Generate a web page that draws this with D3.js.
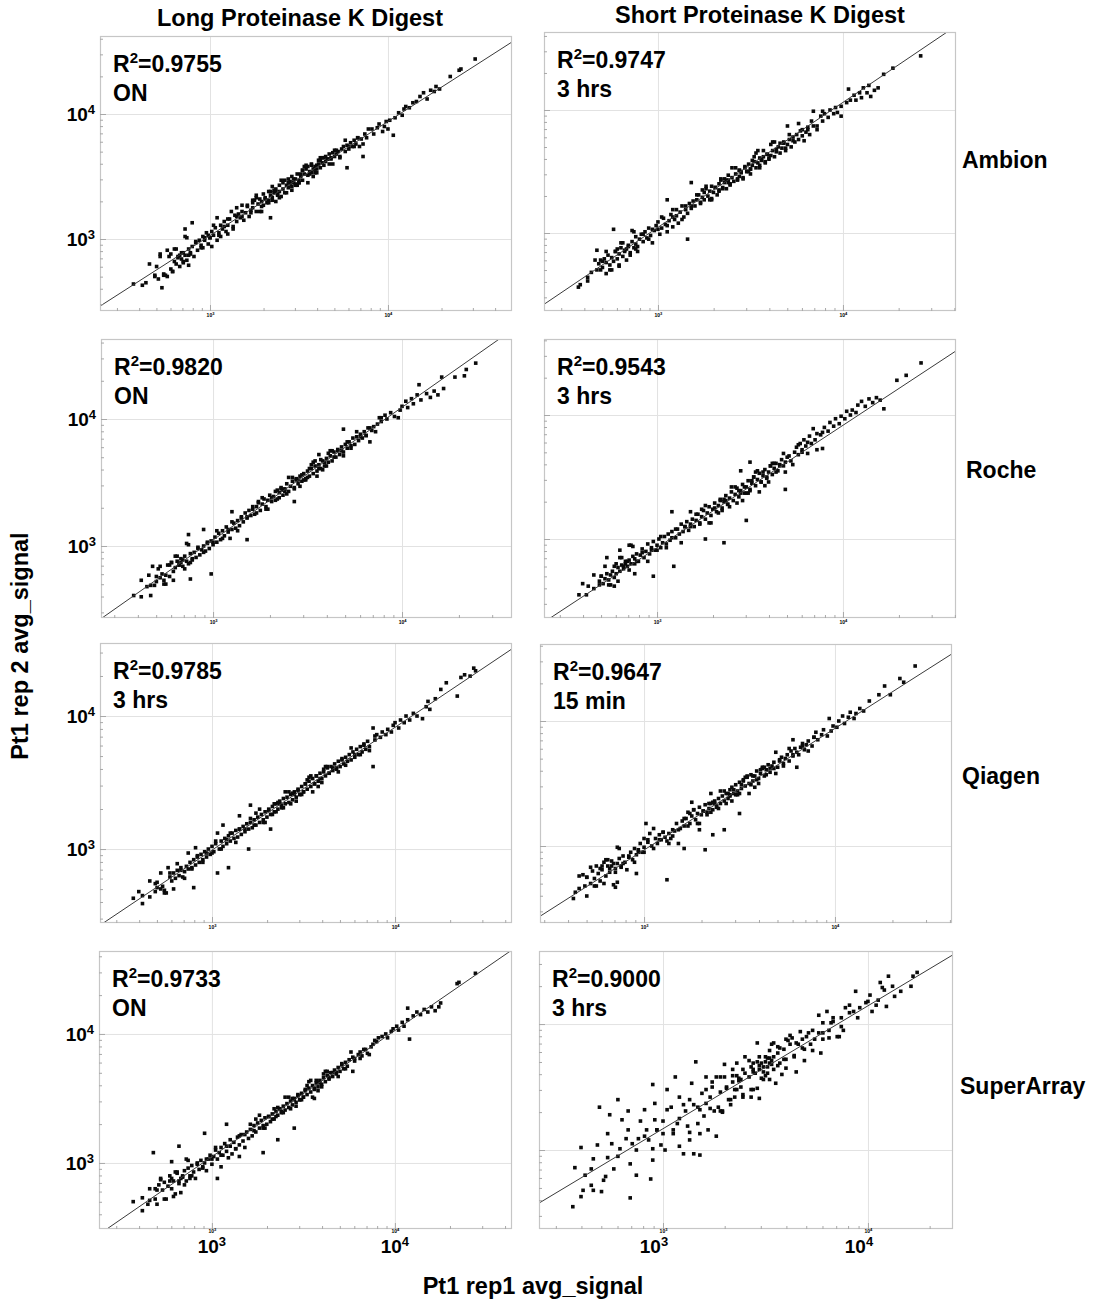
<!DOCTYPE html>
<html><head><meta charset="utf-8">
<script src="https://cdn.jsdelivr.net/npm/d3@7"></script>
<style>
body{margin:0;background:#fff}
svg{display:block}
text{font-family:"Liberation Sans",Arial,Helvetica,sans-serif;font-weight:bold;fill:#000}
</style>
</head><body>
<svg id="chart" width="1105" height="1308"></svg>
<script>
// ---------- data (all signal values in log10 units) ----------
const columnTitles = ["Long Proteinase K Digest", "Short Proteinase K Digest"];
const rowLabels = ["Ambion", "Roche", "Qiagen", "SuperArray"];
const r2Values = ["0.9755", "0.9747", "0.9820", "0.9543", "0.9785", "0.9647", "0.9733", "0.9000"];
const digestTimes = ["ON", "3 hrs", "ON", "3 hrs", "3 hrs", "15 min", "ON", "3 hrs"];
const xAxisTitle = "Pt1 rep1 avg_signal";
const yAxisTitle = "Pt1 rep 2 avg_signal";
const majorTickExponents = [3, 4];
// axis extents per panel (log10 signal)
const xExtentLog = [[2.382,4.697],[2.384,4.611],[2.407,4.582],[2.392,4.608],[2.388,4.639],[2.455,4.613],[2.383,4.640],[2.395,4.415]];
const yExtentLog = [[2.424,4.624],[2.366,4.634],[2.433,4.630],[2.363,4.613],[2.444,4.549],[2.384,4.616],[2.488,4.643],[2.373,4.580]];
// fitted line: log10(rep2) at rep1 = 10^3 and at rep1 = 10^4
const fitLog = [[3.027,3.940],[3.046,4.062],[3.047,4.092],[2.930,3.917],[2.992,3.915],[2.968,3.941],[3.049,4.026],[3.169,4.145]];

const ambionLong = [[2.57,2.64],[2.64,2.65],[2.69,2.70],[2.71,2.68],[2.73,2.61],[2.72,2.88],[2.74,2.72],[2.76,2.70],[2.76,2.91],[2.78,2.76],[2.79,2.74],[2.80,2.82],
[2.81,2.80],[2.82,2.86],[2.83,2.78],[2.84,2.84],[2.85,2.89],[2.85,2.81],[2.86,3.08],[2.86,2.87],[2.87,2.83],[2.88,2.92],[2.88,2.79],[2.89,2.88],[2.90,3.13],[2.90,2.94],[2.91,2.86],
[2.92,2.97],[2.93,2.91],[2.94,2.99],[2.95,2.95],[2.96,3.02],[2.96,2.93],[2.97,2.99],[2.98,3.05],[2.99,2.96],[2.99,3.03],
[3.00,3.01],[3.01,3.06],[3.01,2.94],[3.02,3.03],[3.03,3.09],[3.04,3.17],[3.04,2.99],[3.05,3.05],[3.06,3.11],[3.06,3.02],[3.07,3.08],[3.08,3.14],[3.09,3.06],[3.10,3.11],[3.10,3.04],
[3.11,3.16],[3.12,3.22],[3.13,3.10],[3.14,3.19],[3.15,3.25],[3.15,3.14],[3.16,3.20],[3.17,3.17],[3.18,3.27],[3.18,3.22],[3.19,3.15],[3.20,3.21],
[3.21,3.26],[3.22,3.18],[3.23,3.23],[3.24,3.29],[3.24,3.25],[3.25,3.31],[3.26,3.22],[3.26,3.35],[3.27,3.28],[3.28,3.32],[3.29,3.26],[3.29,3.30],[3.30,3.36],[3.30,3.27],
[3.31,3.33],[3.32,3.29],[3.33,3.38],[3.33,3.31],[3.34,3.17],[3.34,3.35],[3.35,3.42],[3.35,3.33],[3.36,3.37],[3.37,3.30],[3.37,3.40],[3.38,3.36],[3.39,3.43],[3.39,3.38],[3.40,3.34],
[3.41,3.40],[3.41,3.45],[3.42,3.37],[3.43,3.43],[3.44,3.48],[3.44,3.41],[3.45,3.46],[3.46,3.42],[3.46,3.50],[3.47,3.45],[3.48,3.48],[3.48,3.43],[3.49,3.52],[3.50,3.47],[3.50,3.45],
[3.51,3.50],[3.52,3.55],[3.52,3.47],[3.53,3.52],[3.54,3.56],[3.55,3.51],[3.55,3.58],[3.56,3.54],[3.57,3.53],[3.57,3.60],[3.58,3.56],[3.59,3.58],[3.59,3.53],[3.60,3.59],[3.60,3.56],
[3.61,3.60],[3.62,3.63],[3.62,3.57],[3.63,3.61],[3.64,3.65],[3.65,3.62],[3.65,3.66],[3.66,3.64],[3.67,3.60],[3.67,3.68],[3.68,3.65],[3.69,3.69],[3.70,3.66],[3.70,3.71],
[3.71,3.68],[3.72,3.70],[3.73,3.66],[3.74,3.72],[3.75,3.74],[3.76,3.70],[3.77,3.57],[3.77,3.75],[3.78,3.72],[3.79,3.77],[3.80,3.74],
[3.81,3.79],[3.82,3.76],[3.83,3.81],[3.84,3.74],[3.85,3.80],[3.86,3.66],[3.87,3.84],[3.88,3.81],
[3.91,3.88],[3.92,3.84],[3.94,3.89],[3.95,3.92],[3.97,3.86],[3.98,3.90],[3.99,3.94],[4.00,3.88],
[4.01,3.95],[4.03,3.83],[4.04,3.97],[4.06,4.01],[4.08,3.99],[4.09,4.04],[4.10,4.06],
[4.12,4.05],[4.14,4.09],[4.16,4.10],[4.18,4.14],[4.20,4.17],[4.22,4.12],[4.24,4.19],[4.26,4.18],[4.27,4.22],[4.29,4.20],
[4.35,4.30],[4.40,4.35],[4.41,4.36],[4.49,4.44],
[2.92,2.98],[2.95,2.93],[2.97,3.01],[3.00,3.01],[3.02,3.11],[3.05,3.03],[3.08,3.10],[3.10,3.16],[3.13,3.08],[3.15,3.18],[3.18,3.18],[3.21,3.27],[3.23,3.21],[3.26,3.33],[3.28,3.22],[3.31,3.32],[3.33,3.29],[3.36,3.39],[3.38,3.35],[3.40,3.47],[3.43,3.37],[3.45,3.44],[3.47,3.48],[3.50,3.45],[3.52,3.55],[3.55,3.45],[3.57,3.59],[3.59,3.56],[3.62,3.65],[3.64,3.59],[3.66,3.64],[3.69,3.60],[3.71,3.71],[3.73,3.65],[3.76,3.79],[3.78,3.74],[3.81,3.74],[3.83,3.81],[3.86,3.76],[3.89,3.88],[3.24,3.31],[3.29,3.22],[3.34,3.38],[3.39,3.33],[3.44,3.45],[3.48,3.44],[3.53,3.58],[3.58,3.50],[3.63,3.65],[3.68,3.64],[3.35,3.31],[3.42,3.47],[3.46,3.39],[3.51,3.52],[3.56,3.52],[3.61,3.63],[3.37,3.38],[3.49,3.43],[3.54,3.59],[3.60,3.53],
[2.62,2.63],[2.66,2.80],[2.69,2.71],[2.72,2.86],[2.74,2.71],[2.77,2.86],[2.79,2.74],[2.81,2.92],[2.83,2.87],[2.85,2.82],[2.87,3.01],[2.89,2.89],[2.70,2.78],[2.75,2.71],[2.80,2.92],[2.84,2.89],[2.88,2.87],[2.78,2.88],[2.82,2.85],[2.86,3.02]];

const ambionShort = [[2.57,2.56],[2.58,2.58],[2.62,2.64],[2.64,2.68],[2.67,2.70],[2.67,2.86],[2.68,2.75],[2.69,2.78],[2.70,2.72],[2.71,2.79],[2.72,2.67],[2.72,2.76],[2.73,2.82],[2.74,2.74],[2.75,2.80],[2.76,3.03],[2.76,2.77],[2.77,2.85],[2.78,2.79],[2.79,2.74],[2.79,2.83],[2.80,2.88],[2.81,2.81],[2.82,2.86],[2.83,2.78],[2.84,2.90],[2.85,2.84],[2.86,2.93],[2.87,2.88],[2.88,2.97],[2.88,2.91],[2.89,2.85],[2.90,2.95],[2.91,2.99],[2.92,2.93],[2.93,3.01],[2.94,2.96],[2.95,3.04],[2.96,2.98],[2.97,2.92],[2.98,3.02],[2.99,3.06],
[3.00,3.09],[3.01,2.99],[3.02,3.04],[3.03,3.12],[3.04,3.07],[3.05,3.27],[3.05,3.01],[3.06,3.10],[3.07,3.15],[3.08,3.05],[3.08,3.19],[3.09,3.11],[3.10,3.14],[3.11,3.08],[3.12,3.17],[3.13,3.22],[3.14,3.13],[3.15,3.19],[3.16,2.95],[3.16,3.16],[3.17,3.24],[3.18,3.41],[3.18,3.20],[3.19,3.26],[3.20,3.22],
[3.21,3.27],[3.22,3.31],[3.23,3.24],[3.24,3.29],[3.25,3.33],[3.25,3.27],[3.26,3.36],[3.27,3.30],[3.28,3.34],[3.29,3.28],[3.29,3.38],[3.30,3.33],[3.31,3.37],[3.32,3.31],[3.33,3.40],[3.33,3.35],[3.34,3.44],[3.35,3.37],[3.36,3.41],[3.37,3.36],[3.38,3.43],[3.38,3.47],[3.39,3.40],[3.40,3.45],
[3.41,3.42],[3.42,3.48],[3.43,3.44],[3.44,3.51],[3.44,3.46],[3.45,3.49],[3.46,3.44],[3.47,3.53],[3.48,3.50],[3.49,3.56],[3.50,3.52],[3.50,3.48],[3.51,3.55],[3.52,3.58],[3.53,3.53],[3.54,3.57],[3.55,3.61],[3.55,3.55],[3.56,3.59],[3.57,3.62],[3.58,3.57],[3.59,3.64],[3.60,3.60],
[3.61,3.63],[3.62,3.67],[3.63,3.62],[3.64,3.66],[3.65,3.70],[3.66,3.65],[3.67,3.69],[3.68,3.74],[3.69,3.67],[3.70,3.87],[3.70,3.72],[3.71,3.76],[3.72,3.70],[3.73,3.78],[3.74,3.74],[3.75,3.80],[3.76,3.76],[3.77,3.83],[3.78,3.79],[3.79,3.75],[3.80,3.82],
[3.81,3.86],[3.82,3.80],[3.84,3.99],[3.84,3.87],[3.86,3.84],[3.88,3.95],[3.89,3.91],[3.90,3.97],[3.92,3.94],[3.93,4.00],[3.95,3.97],[3.96,4.02],[3.97,3.98],[3.99,3.95],[3.99,4.03],
[4.02,4.06],[4.03,4.17],[4.04,4.08],[4.06,4.12],[4.07,4.08],[4.09,4.14],[4.10,4.10],[4.11,4.18],[4.13,4.14],[4.14,4.20],[4.15,4.11],[4.17,4.16],[4.19,4.18],[4.22,4.29],[4.27,4.34],[4.42,4.44],
[2.92,2.99],[2.95,2.95],[2.97,3.03],[3.00,3.03],[3.02,3.13],[3.05,3.06],[3.08,3.13],[3.10,3.19],[3.13,3.11],[3.15,3.22],[3.18,3.22],[3.21,3.31],[3.23,3.25],[3.26,3.38],[3.28,3.27],[3.31,3.37],[3.33,3.34],[3.36,3.44],[3.38,3.41],[3.40,3.53],[3.43,3.43],[3.45,3.50],[3.47,3.54],[3.50,3.52],[3.52,3.62],[3.55,3.53],[3.57,3.67],[3.59,3.64],[3.62,3.74],[3.64,3.68],[3.66,3.73],[3.69,3.69],[3.71,3.80],[3.73,3.75],[3.76,3.89],[3.78,3.84],[3.81,3.84],[3.83,3.91],[3.86,3.87],[3.89,3.99],[3.24,3.35],[3.29,3.27],[3.34,3.43],[3.39,3.39],[3.44,3.51],[3.48,3.50],[3.53,3.65],[3.58,3.58],[3.63,3.74],[3.68,3.73],[3.35,3.36],[3.42,3.53],[3.46,3.45],[3.51,3.59],[3.56,3.60],[3.61,3.72],[3.37,3.43],[3.49,3.50],[3.54,3.67],[3.60,3.61],
[2.62,2.61],[2.66,2.78],[2.69,2.70],[2.72,2.85],[2.74,2.70],[2.77,2.85],[2.79,2.73],[2.81,2.92],[2.83,2.87],[2.85,2.82],[2.87,3.01],[2.89,2.89],[2.70,2.77],[2.75,2.70],[2.80,2.92],[2.84,2.89],[2.88,2.87],[2.78,2.87],[2.82,2.85],[2.86,3.02]];

const rocheLong = [[2.58,2.61],[2.62,2.73],[2.65,2.68],[2.67,2.61],[2.67,2.69],[2.68,2.84],[2.70,2.72],[2.71,2.82],[2.72,2.75],[2.73,2.78],[2.74,2.73],[2.75,2.77],[2.76,2.85],[2.77,2.76],[2.78,2.87],[2.79,2.80],[2.80,2.83],[2.81,2.88],[2.82,2.85],[2.83,2.90],[2.84,2.84],[2.85,2.92],[2.86,2.88],[2.87,3.09],[2.87,2.86],[2.88,2.74],[2.88,2.94],[2.89,2.90],[2.90,2.95],[2.91,2.91],[2.92,2.98],[2.93,2.93],[2.94,2.97],[2.95,3.13],[2.95,3.00],[2.96,2.96],[2.97,3.02],[2.98,2.98],[2.99,2.78],[2.99,3.04],[3.00,3.01],
[3.01,3.07],[3.02,3.03],[3.03,3.10],[3.04,3.05],[3.05,3.12],[3.06,3.08],[3.07,3.15],[3.08,3.11],[3.09,3.06],[3.10,3.27],[3.10,3.13],[3.11,3.18],[3.12,3.14],[3.13,3.20],[3.14,3.16],[3.15,3.23],[3.16,3.19],[3.17,3.26],[3.18,3.05],[3.18,3.22],[3.19,3.28],[3.20,3.24],
[3.21,3.29],[3.22,3.25],[3.23,3.31],[3.24,3.34],[3.25,3.28],[3.26,3.33],[3.27,3.37],[3.28,3.31],[3.29,3.36],[3.30,3.40],[3.31,3.35],[3.32,3.39],[3.33,3.43],[3.34,3.37],[3.35,3.42],[3.36,3.46],[3.37,3.40],[3.38,3.45],[3.39,3.49],[3.40,3.43],
[3.41,3.47],[3.42,3.51],[3.43,3.35],[3.43,3.46],[3.44,3.52],[3.45,3.49],[3.46,3.55],[3.47,3.51],[3.48,3.57],[3.49,3.53],[3.50,3.59],[3.51,3.55],[3.52,3.61],[3.53,3.57],[3.54,3.63],[3.55,3.59],[3.56,3.72],[3.56,3.64],[3.57,3.61],[3.58,3.67],[3.59,3.63],[3.60,3.69],
[3.61,3.66],[3.62,3.71],[3.63,3.67],[3.64,3.74],[3.65,3.70],[3.66,3.76],[3.67,3.72],[3.68,3.78],[3.69,3.92],[3.69,3.74],[3.70,3.80],[3.71,3.77],[3.72,3.82],[3.73,3.79],[3.74,3.85],[3.75,3.80],[3.76,3.86],[3.77,3.83],[3.78,3.88],[3.79,3.85],[3.80,3.90],
[3.81,3.87],[3.82,3.93],[3.83,3.82],[3.84,3.91],[3.85,3.94],[3.87,3.96],[3.88,4.01],[3.89,3.98],[3.91,4.03],[3.92,4.00],[3.94,4.05],[3.96,4.02],[3.98,4.01],[3.99,4.07],
[4.00,4.10],[4.02,4.14],[4.03,4.09],[4.05,4.16],[4.06,4.12],[4.08,4.19],[4.09,4.27],[4.10,4.15],[4.13,4.20],[4.15,4.17],[4.17,4.22],[4.19,4.19],[4.21,4.33],[4.22,4.24],[4.28,4.33],[4.33,4.34],[4.34,4.39],[4.39,4.44],
[2.92,2.99],[2.95,2.95],[2.97,3.03],[3.00,3.03],[3.02,3.12],[3.05,3.06],[3.08,3.13],[3.10,3.19],[3.13,3.12],[3.15,3.22],[3.18,3.23],[3.21,3.31],[3.23,3.26],[3.26,3.38],[3.28,3.29],[3.31,3.38],[3.33,3.36],[3.36,3.45],[3.38,3.43],[3.40,3.54],[3.43,3.45],[3.45,3.52],[3.47,3.56],[3.50,3.54],[3.52,3.64],[3.55,3.55],[3.57,3.68],[3.59,3.66],[3.62,3.75],[3.64,3.70],[3.66,3.75],[3.69,3.71],[3.71,3.82],[3.73,3.77],[3.76,3.90],[3.78,3.86],[3.81,3.87],[3.83,3.93],[3.86,3.90],[3.89,4.01],[3.24,3.35],[3.29,3.29],[3.34,3.44],[3.39,3.41],[3.44,3.53],[3.48,3.52],[3.53,3.66],[3.58,3.60],[3.63,3.75],[3.68,3.75],[3.35,3.38],[3.42,3.54],[3.46,3.47],[3.51,3.61],[3.56,3.61],[3.61,3.73],[3.37,3.44],[3.49,3.52],[3.54,3.67],[3.60,3.63],
[2.62,2.60],[2.66,2.77],[2.69,2.69],[2.72,2.84],[2.74,2.70],[2.77,2.85],[2.79,2.73],[2.81,2.92],[2.83,2.87],[2.85,2.82],[2.87,3.01],[2.89,2.89],[2.70,2.76],[2.75,2.70],[2.80,2.92],[2.84,2.89],[2.88,2.87],[2.78,2.87],[2.82,2.85],[2.86,3.02]];

const rocheShort = [[2.58,2.55],[2.60,2.64],[2.63,2.62],[2.66,2.60],[2.69,2.66],[2.70,2.70],[2.71,2.64],[2.72,2.68],[2.73,2.85],[2.73,2.72],[2.74,2.67],[2.75,2.71],[2.76,2.74],[2.77,2.62],[2.77,2.69],[2.78,2.72],[2.79,2.77],[2.80,2.91],[2.80,2.74],[2.81,2.79],[2.82,2.76],[2.83,2.82],[2.84,2.78],[2.85,2.95],[2.85,2.83],[2.86,2.80],[2.87,2.86],[2.88,2.72],[2.88,2.84],[2.89,2.88],[2.90,2.82],[2.91,2.87],[2.92,2.92],[2.93,2.85],[2.94,2.90],[2.95,2.96],[2.96,2.88],[2.97,2.93],[2.98,2.70],[2.98,2.98],[2.99,2.91],[3.00,2.95],
[3.01,3.00],[3.02,2.93],[3.03,2.97],[3.04,3.02],[3.05,2.96],[3.06,3.04],[3.07,2.99],[3.08,3.22],[3.08,3.06],[3.09,2.78],[3.10,3.01],[3.11,3.08],[3.12,3.04],[3.13,3.12],[3.14,3.06],[3.15,3.10],[3.16,3.14],[3.17,3.07],[3.18,3.22],[3.18,3.12],[3.19,3.16],[3.20,3.10],
[3.21,3.15],[3.22,3.20],[3.23,3.13],[3.24,3.18],[3.25,3.23],[3.26,3.00],[3.26,3.16],[3.27,3.21],[3.28,3.26],[3.29,3.19],[3.30,3.24],[3.31,3.29],[3.32,3.22],[3.33,3.27],[3.34,3.32],[3.35,3.25],[3.36,2.97],[3.36,3.30],[3.37,3.35],[3.38,3.28],[3.39,3.33],[3.40,3.38],
[3.41,3.31],[3.42,3.36],[3.43,3.41],[3.44,3.34],[3.45,3.55],[3.45,3.39],[3.46,3.44],[3.47,3.37],[3.48,3.15],[3.48,3.42],[3.49,3.47],[3.50,3.62],[3.50,3.40],[3.51,3.45],[3.52,3.50],[3.53,3.43],[3.54,3.48],[3.55,3.53],[3.56,3.46],[3.57,3.51],[3.58,3.56],[3.59,3.49],[3.60,3.54],
[3.61,3.59],[3.62,3.52],[3.63,3.57],[3.64,3.61],[3.65,3.55],[3.66,3.60],[3.67,3.64],[3.68,3.69],[3.69,3.40],[3.69,3.62],[3.70,3.66],[3.72,3.63],[3.74,3.70],[3.75,3.74],[3.76,3.68],[3.77,3.77],[3.78,3.72],[3.79,3.80],[3.80,3.75],
[3.81,3.78],[3.82,3.83],[3.84,3.89],[3.85,3.80],[3.86,3.85],[3.88,3.84],[3.89,3.73],[3.90,3.90],[3.92,3.87],[3.93,3.94],[3.95,3.91],[3.96,3.97],[3.98,3.93],[3.99,3.99],
[4.01,3.97],[4.02,4.03],[4.04,4.00],[4.05,4.04],[4.07,4.02],[4.08,4.08],[4.10,4.11],[4.12,4.07],[4.14,4.13],[4.16,4.10],[4.18,4.14],[4.20,4.12],[4.22,4.05],[4.29,4.28],[4.34,4.32],[4.42,4.42],
[2.92,2.89],[2.95,2.82],[2.97,2.91],[3.00,2.91],[3.02,3.02],[3.05,2.93],[3.08,3.01],[3.10,3.08],[3.13,2.97],[3.15,3.10],[3.18,3.10],[3.21,3.20],[3.23,3.12],[3.26,3.27],[3.28,3.13],[3.31,3.25],[3.33,3.21],[3.36,3.32],[3.38,3.28],[3.40,3.42],[3.43,3.29],[3.45,3.37],[3.47,3.42],[3.50,3.39],[3.52,3.50],[3.55,3.38],[3.57,3.54],[3.59,3.50],[3.62,3.61],[3.64,3.54],[3.66,3.59],[3.69,3.54],[3.71,3.67],[3.73,3.60],[3.76,3.76],[3.78,3.70],[3.81,3.69],[3.83,3.77],[3.86,3.72],[3.89,3.86],[3.24,3.24],[3.29,3.13],[3.34,3.31],[3.39,3.26],[3.44,3.39],[3.48,3.37],[3.53,3.54],[3.58,3.43],[3.63,3.61],[3.68,3.59],[3.35,3.23],[3.42,3.42],[3.46,3.31],[3.51,3.47],[3.56,3.46],[3.61,3.59],[3.37,3.31],[3.49,3.37],[3.54,3.55],[3.60,3.46],
[2.62,2.55],[2.66,2.71],[2.69,2.63],[2.72,2.78],[2.74,2.63],[2.77,2.78],[2.79,2.66],[2.81,2.85],[2.83,2.80],[2.85,2.75],[2.87,2.94],[2.89,2.82],[2.70,2.70],[2.75,2.63],[2.80,2.85],[2.84,2.82],[2.88,2.80],[2.78,2.80],[2.82,2.78],[2.86,2.95]];

const qiagenLong = [[2.57,2.63],[2.60,2.68],[2.62,2.65],[2.66,2.64],[2.69,2.74],[2.70,2.71],[2.72,2.70],[2.73,2.72],[2.74,2.69],[2.76,2.86],[2.77,2.79],[2.78,2.76],[2.79,2.82],[2.80,2.78],[2.81,2.84],[2.82,2.80],[2.83,2.86],[2.84,2.79],[2.85,2.83],[2.86,2.87],[2.87,2.85],[2.88,2.90],[2.89,2.86],[2.90,2.71],[2.90,2.92],[2.91,3.01],[2.91,2.88],[2.92,2.94],[2.93,2.90],[2.94,2.96],[2.95,2.92],[2.96,2.98],[2.97,2.94],[2.98,3.00],[2.99,2.96],[3.00,3.02],
[3.01,2.98],[3.02,3.04],[3.03,3.12],[3.03,2.82],[3.04,3.00],[3.05,3.06],[3.06,3.18],[3.06,3.02],[3.07,3.08],[3.08,3.04],[3.09,2.86],[3.09,3.10],[3.10,3.06],[3.11,3.12],[3.12,3.08],[3.13,3.14],[3.14,3.09],[3.15,3.25],[3.15,3.15],[3.16,3.11],[3.17,3.17],[3.18,3.13],[3.19,3.19],[3.20,3.00],[3.20,3.15],
[3.21,3.33],[3.21,3.20],[3.22,3.16],[3.23,3.22],[3.24,3.18],[3.25,3.24],[3.26,3.20],[3.27,3.26],[3.28,3.22],[3.29,3.28],[3.30,3.24],[3.31,3.30],[3.32,3.15],[3.32,3.26],[3.33,3.32],[3.34,3.28],[3.35,3.34],[3.36,3.30],[3.37,3.36],[3.38,3.31],[3.39,3.38],[3.40,3.34],
[3.41,3.39],[3.42,3.35],[3.43,3.41],[3.44,3.37],[3.45,3.43],[3.46,3.39],[3.47,3.45],[3.48,3.41],[3.49,3.47],[3.50,3.43],[3.51,3.49],[3.52,3.45],[3.53,3.51],[3.54,3.47],[3.55,3.53],[3.56,3.49],[3.57,3.55],[3.58,3.51],[3.59,3.57],[3.60,3.53],
[3.61,3.58],[3.62,3.55],[3.63,3.61],[3.64,3.57],[3.65,3.62],[3.66,3.59],[3.67,3.64],[3.68,3.60],[3.69,3.66],[3.70,3.62],[3.71,3.68],[3.72,3.64],[3.73,3.69],[3.74,3.66],[3.75,3.71],[3.76,3.67],[3.77,3.73],[3.78,3.69],[3.79,3.75],[3.80,3.71],
[3.81,3.77],[3.82,3.73],[3.83,3.79],[3.84,3.75],[3.85,3.81],[3.86,3.77],[3.88,3.91],[3.88,3.62],[3.89,3.82],[3.90,3.86],[3.92,3.84],[3.93,3.88],[3.95,3.86],[3.96,3.90],[3.98,3.88],[3.99,3.93],
[4.00,3.95],[4.02,3.91],[4.03,3.97],[4.05,3.95],[4.06,4.00],[4.08,3.97],[4.10,4.02],[4.12,4.00],[4.15,3.98],[4.17,4.07],[4.18,4.11],[4.19,4.05],[4.22,4.13],[4.25,4.20],[4.28,4.25],[4.34,4.15],[4.36,4.29],[4.38,4.31],[4.41,4.30],[4.43,4.36],[4.44,4.34],
[2.92,2.95],[2.95,2.90],[2.97,2.97],[3.00,2.97],[3.02,3.06],[3.05,3.00],[3.08,3.07],[3.10,3.12],[3.13,3.05],[3.15,3.15],[3.18,3.15],[3.21,3.23],[3.23,3.18],[3.26,3.30],[3.28,3.20],[3.31,3.29],[3.33,3.26],[3.36,3.35],[3.38,3.33],[3.40,3.43],[3.43,3.34],[3.45,3.41],[3.47,3.44],[3.50,3.43],[3.52,3.52],[3.55,3.43],[3.57,3.55],[3.59,3.53],[3.62,3.62],[3.64,3.57],[3.66,3.61],[3.69,3.58],[3.71,3.67],[3.73,3.63],[3.76,3.76],[3.78,3.71],[3.81,3.71],[3.83,3.78],[3.86,3.74],[3.89,3.85],[3.24,3.27],[3.29,3.20],[3.34,3.34],[3.39,3.31],[3.44,3.42],[3.48,3.41],[3.53,3.54],[3.58,3.47],[3.63,3.62],[3.68,3.61],[3.35,3.28],[3.42,3.43],[3.46,3.36],[3.51,3.49],[3.56,3.49],[3.61,3.60],[3.37,3.34],[3.49,3.41],[3.54,3.55],[3.60,3.50],
[2.62,2.59],[2.66,2.76],[2.69,2.68],[2.72,2.82],[2.74,2.67],[2.77,2.82],[2.79,2.70],[2.81,2.89],[2.83,2.84],[2.85,2.78],[2.87,2.97],[2.89,2.85],[2.70,2.75],[2.75,2.67]];

const qiagenShort = [[2.63,2.58],[2.64,2.63],[2.66,2.66],[2.68,2.77],[2.70,2.60],[2.70,2.75],[2.72,2.70],[2.73,2.80],[2.74,2.74],[2.75,2.84],[2.76,2.78],[2.77,2.72],[2.78,2.81],[2.79,2.87],[2.80,2.76],[2.81,2.84],[2.82,2.79],[2.83,2.88],[2.84,2.69],[2.85,2.67],[2.85,2.82],[2.86,2.71],[2.86,2.86],[2.87,2.90],[2.88,2.83],[2.89,2.92],[2.90,2.87],[2.91,2.81],[2.92,2.91],[2.93,2.95],[2.94,2.89],[2.95,2.98],[2.96,2.78],[2.96,2.93],[2.97,2.97],[2.98,3.02],[2.99,2.95],[3.00,3.06],[3.00,2.99],
[3.01,3.18],[3.02,3.03],[3.03,3.10],[3.04,3.00],[3.05,3.14],[3.06,3.06],[3.07,3.02],[3.08,3.09],[3.09,3.05],[3.10,3.11],[3.11,3.07],[3.12,2.73],[3.12,3.04],[3.13,3.10],[3.14,3.06],[3.15,3.08],[3.16,3.12],[3.17,3.18],[3.18,3.02],[3.19,3.14],[3.20,3.20],[3.21,2.98],[3.21,3.16],
[3.22,3.22],[3.23,3.27],[3.24,3.18],[3.25,3.35],[3.25,3.24],[3.26,3.29],[3.27,3.21],[3.28,3.26],[3.29,3.13],[3.29,3.31],[3.30,3.25],[3.31,3.28],[3.32,2.97],[3.32,3.33],[3.33,3.27],[3.34,3.30],[3.35,3.42],[3.35,3.34],[3.36,3.09],[3.36,3.29],[3.37,3.36],[3.38,3.31],[3.39,3.38],[3.40,3.34],
[3.41,3.40],[3.42,3.13],[3.42,3.36],[3.43,3.42],[3.44,3.38],[3.45,3.45],[3.45,3.40],[3.46,3.47],[3.47,3.42],[3.48,3.49],[3.49,3.44],[3.50,3.26],[3.50,3.51],[3.51,3.46],[3.52,3.53],[3.53,3.48],[3.54,3.55],[3.55,3.50],[3.56,3.57],[3.57,3.52],[3.58,3.56],[3.59,3.60],[3.60,3.54],
[3.61,3.58],[3.62,3.62],[3.63,3.56],[3.64,3.61],[3.65,3.65],[3.66,3.59],[3.67,3.64],[3.68,3.67],[3.69,3.75],[3.70,3.63],[3.71,3.68],[3.72,3.71],[3.73,3.66],[3.74,3.70],[3.75,3.73],[3.76,3.68],[3.77,3.76],[3.78,3.85],[3.78,3.72],[3.79,3.78],[3.80,3.63],[3.80,3.75],
[3.82,3.79],[3.83,3.82],[3.84,3.77],[3.85,3.81],[3.86,3.84],[3.88,3.80],[3.89,3.87],[3.90,3.91],[3.91,3.85],[3.93,3.89],[3.94,3.93],[3.96,3.88],[3.97,4.02],[3.98,3.92],[3.99,3.96],
[4.01,3.95],[4.02,4.00],[4.04,4.04],[4.05,3.98],[4.07,4.03],[4.08,4.07],[4.10,4.02],[4.11,4.06],[4.13,4.10],[4.15,4.08],[4.18,4.16],[4.23,4.21],[4.26,4.28],[4.29,4.21],[4.34,4.34],[4.36,4.31],[4.42,4.44],
[2.92,2.92],[2.95,2.87],[2.97,2.95],[3.00,2.95],[3.02,3.05],[3.05,2.98],[3.08,3.05],[3.10,3.11],[3.13,3.02],[3.15,3.13],[3.18,3.13],[3.21,3.22],[3.23,3.16],[3.26,3.29],[3.28,3.18],[3.31,3.28],[3.33,3.25],[3.36,3.35],[3.38,3.32],[3.40,3.44],[3.43,3.34],[3.45,3.41],[3.47,3.45],[3.50,3.42],[3.52,3.52],[3.55,3.42],[3.57,3.56],[3.59,3.53],[3.62,3.63],[3.64,3.57],[3.66,3.62],[3.69,3.58],[3.71,3.69],[3.73,3.64],[3.76,3.78],[3.78,3.73],[3.81,3.73],[3.83,3.80],[3.86,3.76],[3.89,3.87],[3.24,3.26],[3.29,3.18],[3.34,3.34],[3.39,3.30],[3.44,3.42],[3.48,3.41],[3.53,3.55],[3.58,3.47],[3.63,3.63],[3.68,3.62],[3.35,3.27],[3.42,3.44],[3.46,3.36],[3.51,3.49],[3.56,3.49],[3.61,3.61],[3.37,3.34],[3.49,3.41],[3.54,3.56],[3.60,3.50],
[2.66,2.76],[2.69,2.68],[2.72,2.83],[2.74,2.68],[2.77,2.82],[2.79,2.70],[2.81,2.89],[2.83,2.84],[2.85,2.79],[2.87,2.98],[2.89,2.86],[2.70,2.75],[2.75,2.68],[2.80,2.89],[2.84,2.86],[2.88,2.84],[2.78,2.84],[2.82,2.82],[2.86,2.99]];

const superArrayLong = [[2.57,2.70],[2.62,2.73],[2.65,2.68],[2.66,2.71],[2.68,3.08],[2.69,2.80],[2.70,2.68],[2.71,2.83],[2.72,2.88],[2.73,2.79],[2.74,2.85],[2.76,2.82],[2.77,2.90],[2.78,3.01],[2.78,2.80],[2.79,2.86],[2.80,2.76],[2.81,2.92],[2.82,3.13],[2.82,2.84],[2.83,2.77],[2.84,2.89],[2.85,2.94],[2.86,2.86],[2.87,2.96],[2.88,2.90],[2.89,2.98],[2.90,2.93],[2.91,2.88],[2.92,2.99],[2.93,2.95],[2.94,3.02],[2.95,2.97],[2.96,3.23],[2.96,3.00],[2.97,2.94],[2.98,3.03],[2.99,3.06],[3.00,2.99],
[3.01,3.05],[3.02,3.10],[3.03,2.88],[3.03,3.03],[3.04,3.08],[3.05,2.97],[3.05,3.12],[3.06,3.06],[3.07,3.15],[3.08,3.30],[3.08,3.09],[3.09,3.04],[3.10,3.13],[3.11,3.07],[3.12,3.16],[3.13,3.11],[3.14,3.20],[3.15,3.05],[3.15,3.14],[3.16,3.22],[3.17,3.17],[3.18,3.12],[3.19,3.24],[3.20,3.19],
[3.21,3.26],[3.22,3.21],[3.23,3.29],[3.24,3.24],[3.25,3.31],[3.26,3.27],[3.27,3.33],[3.28,3.08],[3.28,3.29],[3.29,3.35],[3.30,3.30],[3.31,3.36],[3.32,3.32],[3.33,3.38],[3.34,3.34],[3.35,3.40],[3.36,3.18],[3.36,3.37],[3.37,3.42],[3.38,3.39],[3.39,3.44],[3.40,3.41],
[3.41,3.46],[3.42,3.43],[3.43,3.48],[3.44,3.45],[3.45,3.27],[3.45,3.50],[3.46,3.47],[3.47,3.52],[3.48,3.49],[3.49,3.54],[3.50,3.51],[3.51,3.56],[3.52,3.53],[3.53,3.58],[3.54,3.55],[3.55,3.60],[3.56,3.50],[3.56,3.57],[3.57,3.62],[3.58,3.59],[3.59,3.64],[3.60,3.61],
[3.61,3.66],[3.62,3.63],[3.63,3.68],[3.64,3.65],[3.65,3.70],[3.66,3.67],[3.67,3.72],[3.68,3.69],[3.69,3.74],[3.70,3.71],[3.71,3.76],[3.72,3.73],[3.73,3.78],[3.74,3.75],[3.75,3.80],[3.77,3.71],[3.77,3.82],[3.78,3.79],[3.80,3.84],
[3.81,3.86],[3.82,3.83],[3.84,3.88],[3.85,3.85],[3.87,3.90],[3.88,3.92],[3.90,3.94],[3.91,3.97],[3.93,3.98],[3.95,4.00],[3.96,3.97],[3.98,4.02],[3.99,4.04],
[4.01,4.06],[4.02,4.03],[4.04,4.09],[4.05,4.06],[4.07,4.20],[4.07,4.11],[4.08,3.96],[4.10,4.14],[4.12,4.17],[4.14,4.15],[4.16,4.19],[4.18,4.17],[4.20,4.21],[4.22,4.18],[4.24,4.21],[4.25,4.24],[4.34,4.39],[4.35,4.40],[4.44,4.47],
[2.92,3.00],[2.95,2.96],[2.97,3.03],[3.00,3.03],[3.02,3.12],[3.05,3.06],[3.08,3.13],[3.10,3.18],[3.13,3.11],[3.15,3.21],[3.18,3.22],[3.21,3.30],[3.23,3.25],[3.26,3.37],[3.28,3.27],[3.31,3.36],[3.33,3.34],[3.36,3.43],[3.38,3.40],[3.40,3.51],[3.43,3.42],[3.45,3.49],[3.47,3.53],[3.50,3.51],[3.52,3.60],[3.55,3.51],[3.57,3.64],[3.59,3.62],[3.62,3.71],[3.64,3.66],[3.66,3.70],[3.69,3.67],[3.71,3.77],[3.73,3.73],[3.76,3.86],[3.78,3.81],[3.81,3.81],[3.83,3.88],[3.86,3.84],[3.89,3.95],[3.24,3.34],[3.29,3.27],[3.34,3.42],[3.39,3.39],[3.44,3.50],[3.48,3.49],[3.53,3.63],[3.58,3.56],[3.63,3.71],[3.68,3.70],[3.35,3.36],[3.42,3.51],[3.46,3.44],[3.51,3.57],[3.56,3.58],[3.61,3.69],[3.37,3.42],[3.49,3.49],[3.54,3.64],[3.60,3.59],
[2.62,2.63],[2.66,2.80],[2.69,2.72],[2.72,2.87],[2.74,2.72],[2.77,2.86],[2.79,2.74],[2.81,2.93],[2.83,2.88],[2.85,2.83],[2.87,3.02],[2.89,2.90],[2.70,2.79],[2.75,2.72],[2.80,2.93],[2.84,2.90],[2.88,2.88],[2.78,2.88],[2.82,2.86],[2.86,3.03]];

const superArrayShort = [[2.56,2.55],[2.57,2.86],[2.60,2.63],[2.60,3.02],[2.61,2.68],[2.62,2.80],[2.65,2.85],[2.65,2.72],[2.66,2.93],[2.66,2.68],[2.68,3.04],[2.69,3.34],[2.70,2.67],[2.71,2.76],[2.72,2.79],[2.73,2.94],[2.73,3.13],[2.74,3.28],[2.75,3.05],[2.76,2.85],[2.78,2.95],[2.78,3.40],[2.79,3.01],[2.80,3.24],[2.82,3.09],[2.83,3.31],[2.83,3.16],[2.84,2.89],[2.84,2.62],[2.85,3.05],[2.87,2.80],[2.87,3.00],[2.88,3.09],[2.89,3.23],[2.91,3.32],[2.91,3.11],[2.93,3.08],[2.94,2.77],[2.95,2.92],[2.95,3.52],[2.96,3.37],[2.96,3.24],[2.97,3.16],[2.99,3.04],
[3.00,3.23],[3.01,3.00],[3.02,3.48],[3.04,3.34],[3.05,3.16],[3.06,3.58],[3.07,3.21],[3.08,3.42],[3.08,3.03],[3.10,2.97],[3.11,3.31],[3.12,3.19],[3.13,3.40],[3.13,3.08],[3.14,3.53],[3.15,2.97],[3.16,3.70],[3.17,3.21],[3.17,3.34],[3.18,3.13],[3.19,3.45],[3.18,2.96],[3.20,3.27],
[3.21,3.58],[3.21,3.37],[3.22,3.16],[3.23,3.42],[3.24,3.50],[3.25,3.31],[3.26,3.11],[3.27,3.34],[3.28,3.46],[3.28,3.58],[3.29,3.31],[3.30,3.58],[3.30,3.68],[3.31,3.50],[3.32,3.40],[3.33,3.36],[3.34,3.64],[3.34,3.54],[3.35,3.48],[3.36,3.69],[3.36,3.48],[3.37,3.57],[3.38,3.56],[3.39,3.64],[3.39,3.42],[3.40,3.61],
[3.42,3.58],[3.43,3.66],[3.43,3.42],[3.44,3.62],[3.44,3.69],[3.44,3.48],[3.46,3.85],[3.46,3.70],[3.47,3.64],[3.47,3.74],[3.47,3.41],[3.48,3.69],[3.49,3.66],[3.49,3.62],[3.50,3.74],[3.50,3.70],[3.51,3.61],[3.51,3.66],[3.52,3.69],[3.52,3.56],[3.52,3.73],[3.53,3.71],[3.53,3.68],[3.54,3.64],[3.54,3.74],[3.56,3.77],[3.56,3.82],[3.57,3.69],[3.59,3.80],[3.60,3.88],[3.60,3.72],
[3.62,3.84],[3.64,3.74],[3.65,3.62],[3.65,3.85],[3.67,3.94],[3.68,3.88],[3.69,3.80],[3.70,3.90],[3.72,3.84],[3.73,3.95],[3.74,3.88],[3.76,3.93],[3.77,3.77],[3.78,4.01],[3.78,3.88],[3.80,4.10],
[3.81,3.95],[3.82,4.01],[3.83,4.05],[3.85,3.90],[3.87,3.98],[3.87,4.05],[3.88,3.95],[3.91,4.09],[3.91,4.15],[3.93,4.10],[3.94,4.26],[3.95,4.05],[3.96,4.13],[3.99,4.17],
[4.00,4.18],[4.01,4.23],[4.02,4.10],[4.04,4.15],[4.05,4.19],[4.06,4.33],[4.07,4.29],[4.08,4.27],[4.09,4.14],[4.10,4.38],[4.12,4.30],[4.13,4.22],[4.16,4.26],[4.21,4.30],[4.22,4.38],[4.24,4.41],
[2.92,3.16],[2.95,3.01],[2.97,3.16],[3.00,3.13],[3.02,3.32],[3.05,3.13],[3.08,3.25],[3.10,3.36],[3.13,3.14],[3.15,3.36],[3.18,3.32],[3.21,3.48],[3.23,3.33],[3.26,3.58],[3.28,3.31],[3.31,3.49],[3.33,3.40],[3.36,3.59],[3.38,3.50],[3.40,3.74],[3.43,3.48],[3.45,3.61],[3.47,3.67],[3.50,3.59],[3.52,3.79],[3.55,3.53],[3.57,3.81],[3.59,3.72],[3.62,3.91],[3.64,3.75],[3.66,3.84],[3.69,3.71],[3.71,3.93],[3.73,3.79],[3.76,4.07],[3.78,3.93],[3.81,3.89],[3.83,4.02],[3.86,3.90],[3.89,4.13],[3.24,3.54],[3.29,3.30],[3.34,3.59],[3.39,3.44],[3.44,3.64],[3.48,3.57],[3.53,3.84],[3.58,3.60],[3.63,3.89],[3.68,3.81],[3.35,3.42],[3.42,3.71],[3.46,3.49],[3.51,3.73],[3.56,3.67],[3.61,3.87],[3.37,3.55],[3.49,3.56],[3.54,3.85],[3.60,3.65]];

const panelPoints = [ambionLong, ambionShort, rocheLong, rocheShort, qiagenLong, qiagenShort, superArrayLong, superArrayShort];

// ---------- layout ----------
const boxes = [
  {x0:100,x1:512,y0:36,y1:311},  {x0:544,x1:956,y0:32,y1:311},
  {x0:101,x1:512,y0:339,y1:618}, {x0:544,x1:956,y0:339,y1:618},
  {x0:100,x1:512,y0:643,y1:923}, {x0:540,x1:952,y0:644,y1:923},
  {x0:99,x1:512,y0:951,y1:1229}, {x0:539,x1:953,y0:951,y1:1229}
];
const svg = d3.select("#chart");
const dot = 3.6;

function powerLabel(sel, exp, big) {
  sel.text(null);
  sel.append("tspan").text("10");
  sel.append("tspan").attr("font-size", big ? 13 : 4).attr("dy", big ? -7 : -1.5).text(exp);
}

panelPoints.forEach((pts, i) => {
  const b = boxes[i], row = Math.floor(i / 2), col = i % 2;
  const x = d3.scaleLog().domain(xExtentLog[i].map(v => 10 ** v)).range([b.x0, b.x1]);
  const y = d3.scaleLog().domain(yExtentLog[i].map(v => 10 ** v)).range([b.y1, b.y0]);
  const g = svg.append("g");
  const majors = majorTickExponents.map(e => 10 ** e);
  const minorX = [], minorY = [];
  [2, 3, 4].forEach(k => d3.range(2, 10).forEach(m => {
    const v = m * 10 ** k;
    if (v > x.domain()[0] && v < x.domain()[1]) minorX.push(v);
    if (v > y.domain()[0] && v < y.domain()[1]) minorY.push(v);
  }));
  const W = b.x1 - b.x0, H = b.y1 - b.y0;

  // grid lines
  const gridX = g.append("g").attr("transform", `translate(0,${b.y1})`)
    .call(d3.axisBottom(x).tickValues(majors).tickSize(-H).tickFormat(""));
  const gridY = g.append("g").attr("transform", `translate(${b.x0},0)`)
    .call(d3.axisLeft(y).tickValues(majors).tickSize(-W).tickFormat(""));
  [gridX, gridY].forEach(a => { a.select(".domain").remove(); a.selectAll("line").attr("stroke", "#e2e2e2").attr("stroke-width", 1); });

  const clipId = "clip" + i;
  g.append("clipPath").attr("id", clipId).append("rect")
    .attr("x", b.x0).attr("y", b.y0).attr("width", W).attr("height", H);
  const plot = g.append("g").attr("clip-path", `url(#${clipId})`);

  // points
  plot.selectAll("rect.pt").data(pts).join("rect").attr("class", "pt")
    .attr("x", d => x(10 ** d[0]) - dot / 2).attr("y", d => y(10 ** d[1]) - dot / 2)
    .attr("width", dot).attr("height", dot).attr("fill", "#0a0a0a");

  // fitted line
  const [a3, a4] = fitLog[i];
  const fit = lx => a3 + (a4 - a3) * (lx - 3);
  const lx0 = xExtentLog[i][0], lx1 = xExtentLog[i][1];
  plot.append("line")
    .attr("x1", x(10 ** lx0)).attr("y1", y(10 ** fit(lx0)))
    .attr("x2", x(10 ** lx1)).attr("y2", y(10 ** fit(lx1)))
    .attr("stroke", "#3a3a3a").attr("stroke-width", 1);

  // frame
  g.append("rect").attr("x", b.x0 + 0.5).attr("y", b.y0 + 0.5).attr("width", W - 1).attr("height", H - 1)
    .attr("fill", "none").attr("stroke", "#c6c6c6").attr("stroke-width", 1.2);

  // ticks
  const tickStyle = a => { a.select(".domain").remove(); a.selectAll("line").attr("stroke", "#a8a8a8"); };
  g.append("g").attr("transform", `translate(0,${b.y1})`)
    .call(d3.axisBottom(x).tickValues(minorX).tickSize(-3).tickFormat("")).call(tickStyle);
  const majX = g.append("g").attr("transform", `translate(0,${b.y1})`)
    .call(d3.axisBottom(x).tickValues(majors).tickSize(-6).tickPadding(row === 3 ? 0 : 2).tickFormat(d => Math.round(Math.log10(d))));
  tickStyle(majX);
  majX.selectAll("text").attr("fill", "#b8b8b8").attr("font-size", 5).attr("font-weight", "normal")
    .each(function(d){ powerLabel(d3.select(this), Math.round(Math.log10(d)), false); });
  g.append("g").attr("transform", `translate(${b.x0},0)`)
    .call(d3.axisLeft(y).tickValues(minorY).tickSize(-3).tickFormat("")).call(tickStyle);
  g.append("g").attr("transform", `translate(${b.x0},0)`)
    .call(d3.axisLeft(y).tickValues(majors).tickSize(-6).tickFormat("")).call(tickStyle);

  // y labels on left column
  if (col === 0) {
    majors.forEach(v => {
      g.append("text").attr("x", b.x0 - 5).attr("y", y(v) + 7).attr("text-anchor", "end")
        .attr("font-size", 19).call(s => powerLabel(s, Math.round(Math.log10(v)), true));
    });
  }
  // x labels on bottom row
  if (row === 3) {
    majors.forEach(v => {
      g.append("text").attr("x", x(v) + (col === 0 ? 0 : -9)).attr("y", 1253).attr("text-anchor", "middle")
        .attr("font-size", 19).call(s => powerLabel(s, Math.round(Math.log10(v)), true));
    });
  }

  // R² and digest time
  const t = g.append("text").attr("x", b.x0 + 13).attr("y", b.y0 + 36).attr("font-size", 23);
  t.append("tspan").text("R");
  t.append("tspan").attr("font-size", 15).attr("dy", -9).text("2");
  t.append("tspan").attr("dy", 9).text("=" + r2Values[i]);
  g.append("text").attr("x", b.x0 + 13).attr("y", b.y0 + 65).attr("font-size", 23).text(digestTimes[i]);
});

// column titles
const colCenters = [300, 760], colBase = [26, 23];
columnTitles.forEach((s, c) => svg.append("text").attr("x", colCenters[c]).attr("y", colBase[c])
  .attr("text-anchor", "middle").attr("font-size", 23.5).text(s));
// row labels
const rowBase = [168, 478, 784, 1094], rowX = [962, 966, 962, 960];
rowLabels.forEach((s, r) => svg.append("text").attr("x", rowX[r]).attr("y", rowBase[r])
  .attr("font-size", 23).text(s));
// axis titles
svg.append("text").attr("x", 533).attr("y", 1294).attr("text-anchor", "middle").attr("font-size", 23.5).text(xAxisTitle);
svg.append("text").attr("transform", "translate(28,646) rotate(-90)").attr("text-anchor", "middle")
  .attr("font-size", 23.5).text(yAxisTitle);
</script>
</body></html>
